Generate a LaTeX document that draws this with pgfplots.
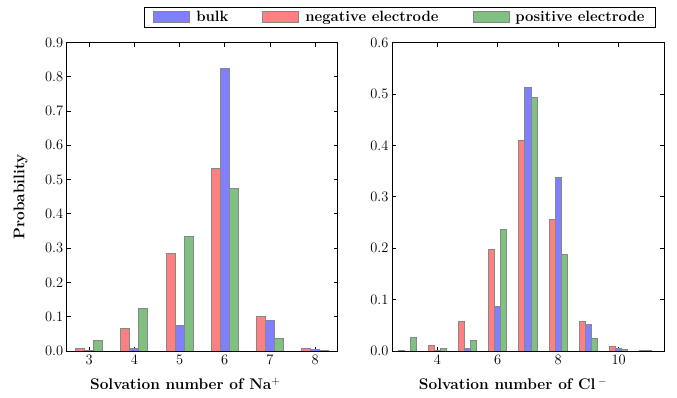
\documentclass[border=0pt]{standalone}
\usepackage{fontspec}
\usepackage{pgfplots}
\pgfplotsset{compat=1.18}
\definecolor{cblue}{RGB}{128,128,255}
\definecolor{cred}{RGB}{255,128,128}
\definecolor{cgreen}{RGB}{128,192,128}
\definecolor{cedge}{RGB}{135,135,135}
\pgfplotsset{
  myaxis/.style={
    scale only axis, width=271bp, height=308.5bp,
    ybar, bar width=0.2,
    ymin=0, xmin=2.5,
    tick align=inside, major tick length=4bp,
    tick style={black, line width=0.8bp},
    axis line style={black, line width=0.8bp},
    /pgf/number format/assume math mode=true,
    ticklabel style={font=\fontsize{14.5}{16}\selectfont},
    yticklabel style={/pgf/number format/.cd, fixed, fixed zerofill, precision=1, assume math mode=true},
    scaled y ticks=false,
    label style={font=\fontsize{15.5}{18}\selectfont\bfseries},
    xlabel style={at={(axis description cs:0.5,0)}, anchor=center, yshift=-33bp},
    every axis plot/.append style={draw=cedge, line width=1bp},
  }
}
\begin{document}
\begin{tikzpicture}
\useasboundingbox (0,0) rectangle (677bp,398bp);
\begin{axis}[myaxis, at={(66.7bp,47bp)}, anchor=south west,
  xmax=8.5, ymax=0.9, xtick={3,4,5,6,7,8}, ytick={0,0.1,...,0.9},
  xlabel={Solvation number of Na$^+$},
  xlabel style={xshift=-17bp},
  ylabel={Probability},
  ylabel style={at={(axis description cs:-0.17,0.5)}, anchor=center},
  legend columns=3,
  legend style={at={(1.23,1.081)}, anchor=center, draw=black, line width=0.6bp,
    font=\fontsize{15}{17}\selectfont\bfseries, inner xsep=9bp, inner ysep=2bp,
    /tikz/every odd column/.append style={column sep=4bp},
    /tikz/every even column/.append style={column sep=32bp}},
  legend image code/.code={\draw[#1, line width=0.8bp] (0bp,-5bp) rectangle (36bp,6bp);},
]
\addplot[fill=cblue, bar shift=0] coordinates {(3,0.002) (4,0.007) (5,0.075) (6,0.825) (7,0.089) (8,0.003)};
\addlegendentry{bulk}
\addplot[fill=cred, bar shift=-0.2] coordinates {(3,0.008) (4,0.066) (5,0.285) (6,0.532) (7,0.100) (8,0.006)};
\addlegendentry{negative electrode}
\addplot[fill=cgreen, bar shift=0.2] coordinates {(3,0.030) (4,0.123) (5,0.334) (6,0.473) (7,0.036) (8,0.001)};
\addlegendentry{positive electrode}
\end{axis}
\begin{axis}[myaxis, at={(392bp,47bp)}, anchor=south west, width=272bp,
  xmax=11.5, ymax=0.6, xtick={4,6,8,10}, ytick={0,0.1,...,0.6},
  xlabel={Solvation number of Cl\,$^-$},
  xlabel style={xshift=-15bp},
]
\addplot[fill=cblue, bar shift=0] coordinates {(4,0.001) (5,0.004) (6,0.087) (7,0.513) (8,0.338) (9,0.052) (10,0.004) (11,0.001)};
\addplot[fill=cred, bar shift=-0.2] coordinates {(3,0.001) (4,0.010) (5,0.057) (6,0.197) (7,0.409) (8,0.255) (9,0.058) (10,0.009) (11,0.001)};
\addplot[fill=cgreen, bar shift=0.2] coordinates {(3,0.026) (4,0.004) (5,0.021) (6,0.237) (7,0.494) (8,0.188) (9,0.025) (10,0.002)};
\end{axis}
\end{tikzpicture}
\end{document}
